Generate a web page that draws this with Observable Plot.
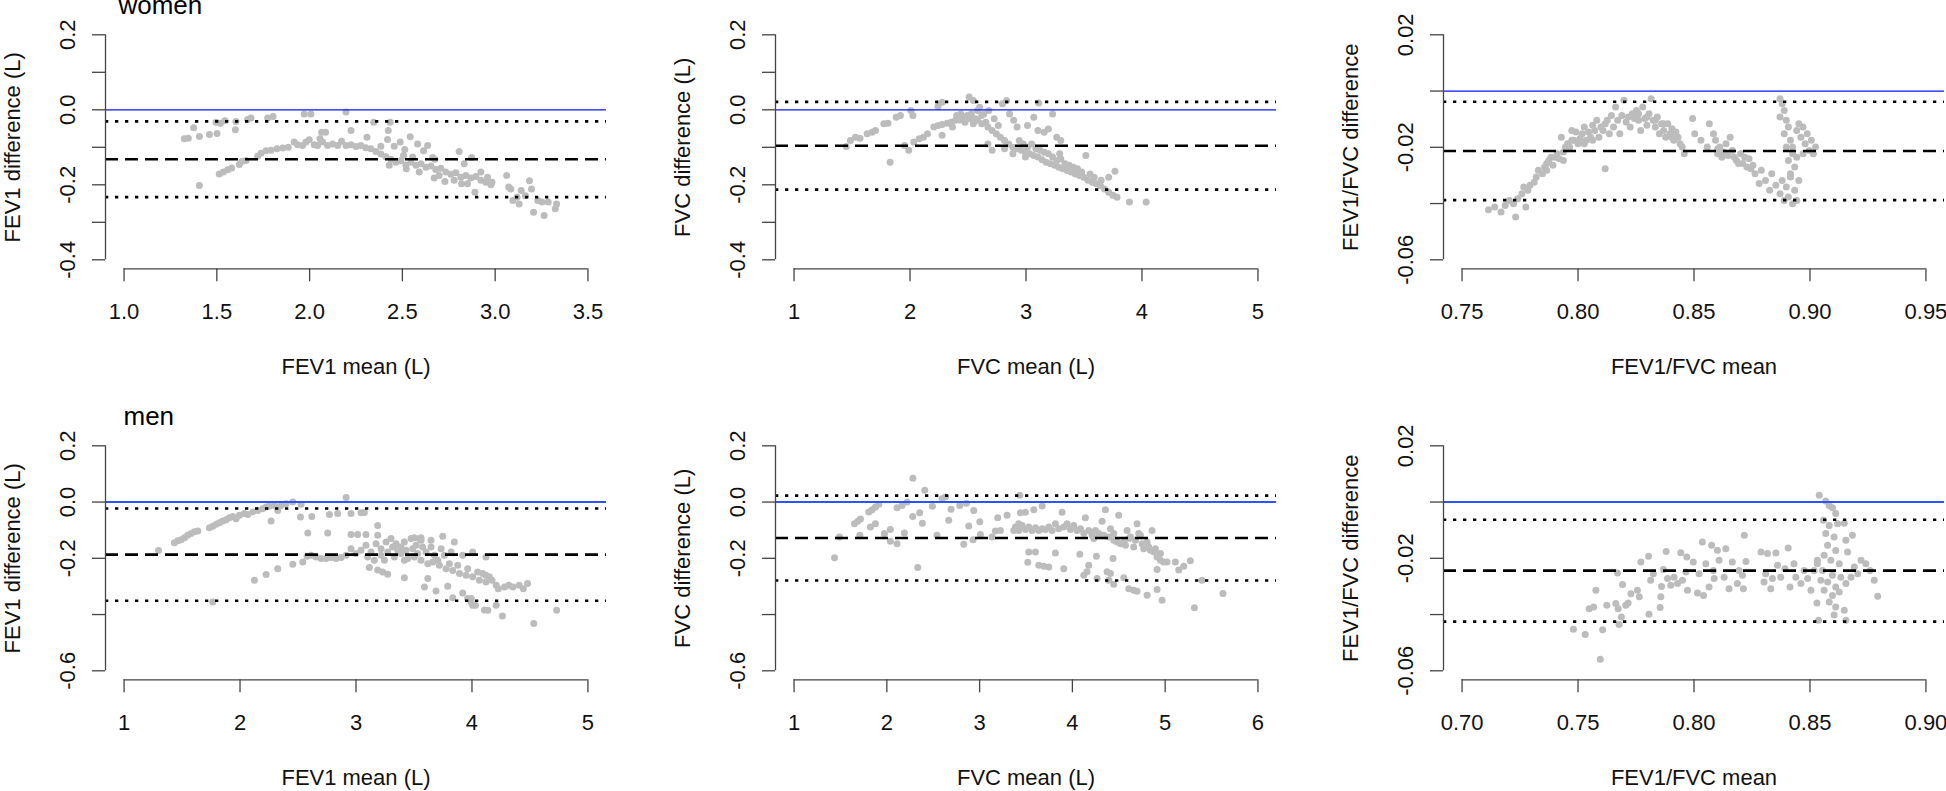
<!DOCTYPE html>
<html><head><meta charset="utf-8">
<script src="https://cdn.jsdelivr.net/npm/d3@7"></script>
<script src="https://cdn.jsdelivr.net/npm/@observablehq/plot@0.6"></script>
<style>
html,body{margin:0;padding:0;background:#fff;overflow:hidden;}
#wrap{position:relative;width:1946px;height:791px;overflow:hidden;}
#wrap svg{position:absolute;overflow:visible;}
</style></head><body><div id="wrap"></div>
<script>
// ---------- data (mean, difference) ----------
const womenFEV1 = [
[1.325,-0.077],[1.346,-0.076],[1.375,-0.048],[1.406,-0.071],[1.460,-0.066],[1.501,-0.063],[1.496,-0.033],[1.519,-0.036],[1.544,-0.029],[1.603,-0.031],[1.600,-0.053],[1.666,-0.026],[1.684,-0.022],[1.774,-0.022],[1.803,-0.018],[1.971,-0.011],[2.007,-0.011],[2.196,-0.006],[2.345,-0.033],[2.434,-0.033],[2.424,-0.055],[2.420,-0.079],[2.223,-0.055],[2.309,-0.073],[2.065,-0.060],[2.086,-0.060],[2.056,-0.077],
[1.406,-0.202],[1.513,-0.171],[1.535,-0.166],[1.558,-0.160],[1.580,-0.155],[1.621,-0.146],[1.634,-0.138],[1.657,-0.135],[1.720,-0.124],[1.738,-0.116],[1.765,-0.109],[1.792,-0.108],[1.824,-0.104],[1.855,-0.102],[1.885,-0.100],[1.917,-0.086],[1.935,-0.093],[1.962,-0.095],[1.980,-0.086],[1.998,-0.080],[2.025,-0.093],[2.043,-0.095],[2.070,-0.086],[2.097,-0.095],[2.124,-0.091],[2.151,-0.095],[2.172,-0.084],[2.196,-0.095],[2.223,-0.093],[2.250,-0.098],[2.276,-0.095],[2.303,-0.101],[2.330,-0.104],[2.357,-0.111],[2.384,-0.118],[2.411,-0.125],[2.438,-0.132],[2.465,-0.140],[2.492,-0.136],[2.519,-0.147],[2.546,-0.140],[2.573,-0.148],[2.600,-0.144],[2.627,-0.153],[2.654,-0.150],[2.680,-0.159],[2.707,-0.156],[2.734,-0.166],[2.761,-0.172],[2.788,-0.168],[2.815,-0.180],[2.842,-0.175],[2.869,-0.182],[2.896,-0.178],[2.923,-0.188],[2.950,-0.193],[2.977,-0.200],
[2.456,-0.097],[2.488,-0.086],[2.513,-0.106],[2.542,-0.072],[2.582,-0.091],[2.614,-0.109],[2.636,-0.095],[2.663,-0.127],[2.675,-0.132],[2.806,-0.111],[2.873,-0.127],[2.833,-0.144],[2.891,-0.220],[2.819,-0.197],[2.729,-0.191],[2.671,-0.182],[2.521,-0.157],[2.429,-0.148],[2.384,-0.097],[2.506,-0.122],[2.555,-0.126],[2.591,-0.166],[2.698,-0.175],[2.779,-0.188],[2.851,-0.197],[2.923,-0.166],[2.959,-0.180],
[3.062,-0.175],[3.084,-0.211],[3.095,-0.242],[3.129,-0.251],[3.140,-0.215],[3.185,-0.189],[3.196,-0.211],[3.207,-0.273],[3.230,-0.242],[3.253,-0.246],[3.264,-0.282],[3.286,-0.246],[3.331,-0.251],[3.324,-0.264],[3.163,-0.229],[3.118,-0.233],[3.073,-0.206],[2.983,-0.193]
];
const womenFVC = [
[1.450,-0.098],[1.486,-0.082],[1.529,-0.073],[1.569,-0.076],[1.630,-0.064],[1.673,-0.060],[1.702,-0.055],[1.774,-0.037],[1.810,-0.036],[1.881,-0.020],[1.917,-0.015],[2.007,-0.002],[2.025,-0.015],[1.828,-0.140],[1.953,-0.095],[1.989,-0.108],[2.032,-0.086],[2.079,-0.077],[2.115,-0.073],[2.151,-0.064],[2.205,-0.046],[2.241,-0.042],[2.277,-0.068],[2.277,-0.039],[2.320,-0.036],[2.241,0.009],[2.277,0.020],[2.356,-0.033],[2.392,-0.028],[2.428,-0.027],[2.464,-0.021],[2.493,-0.015],[2.510,0.034],[2.528,-0.011],[2.546,0.025],[2.564,-0.024],[2.582,-0.002],[2.600,0.007],[2.618,-0.015],[2.636,-0.011],[2.654,-0.033],[2.672,-0.046],[2.679,-0.002],[2.708,-0.055],[2.726,-0.024],[2.744,-0.064],[2.761,-0.042],[2.779,-0.073],[2.797,0.016],[2.815,-0.082],[2.833,0.025],[2.851,-0.091],[2.858,-0.011],[2.887,-0.100],[2.894,-0.028],[2.923,-0.104],[2.923,-0.046],[2.959,-0.108],[2.995,-0.113],[3.013,-0.042],[3.031,-0.117],[3.067,-0.122],[3.067,-0.020],[3.103,-0.126],[3.103,-0.055],[3.110,0.018],[3.139,-0.133],[3.157,-0.060],[3.175,-0.140],[3.193,-0.051],[3.211,-0.144],[3.229,-0.011],[3.247,-0.148],[3.265,-0.073],[3.282,-0.153],[3.290,-0.117],[3.300,-0.082],[3.318,-0.157],[3.354,-0.162],[3.390,-0.166],[3.426,-0.171],[3.462,-0.175],[3.498,-0.180],[3.516,-0.122],[3.534,-0.188],[3.570,-0.193],[3.605,-0.197],[3.641,-0.202],[3.648,-0.188],[3.677,-0.211],[3.713,-0.220],[3.713,-0.180],[3.749,-0.228],[3.767,-0.164],[3.785,-0.233],[3.892,-0.246],[4.036,-0.246],
[2.941,-0.082],[2.977,-0.091],[3.013,-0.100],[3.049,-0.091],[3.085,-0.104],[3.121,-0.108],[3.157,-0.113],[3.193,-0.117],[3.229,-0.126],[3.265,-0.135],[3.300,-0.131],[3.336,-0.144],[3.372,-0.148],[3.408,-0.153],[3.444,-0.157],[3.480,-0.166],[3.552,-0.171],[3.588,-0.180],[2.815,-0.104],[2.887,-0.117],[2.708,-0.108],[2.672,-0.091],[2.995,-0.126],
[2.438,-0.011],[2.474,-0.033],[2.510,-0.024],[2.546,-0.037],[2.582,-0.028],[2.618,-0.037],[2.402,-0.015],[2.366,-0.046]
];
const womenRatio = [
[0.7614,-0.0422],[0.7641,-0.0412],[0.7668,-0.0430],[0.7686,-0.0407],[0.7704,-0.0389],[0.7731,-0.0448],[0.7722,-0.0401],[0.7740,-0.0383],[0.7758,-0.0365],[0.7766,-0.0341],[0.7775,-0.0412],[0.7784,-0.0353],[0.7793,-0.0335],[0.7811,-0.0324],[0.7820,-0.0306],[0.7829,-0.0282],[0.7847,-0.0294],[0.7856,-0.0270],[0.7865,-0.0258],[0.7874,-0.0247],[0.7883,-0.0235],[0.7892,-0.0264],[0.7901,-0.0235],[0.7910,-0.0223],[0.7919,-0.0241],[0.7928,-0.0164],[0.7937,-0.0217],[0.7946,-0.0199],[0.7955,-0.0187],[0.7964,-0.0199],[0.7973,-0.0140],[0.7982,-0.0175],[0.7991,-0.0146],[0.8000,-0.0187],[0.8009,-0.0169],[0.8018,-0.0152],[0.8027,-0.0128],[0.8036,-0.0175],[0.8045,-0.0146],[0.8054,-0.0164],[0.8063,-0.0122],[0.8072,-0.0140],[0.8081,-0.0104],[0.8090,-0.0164],[0.8099,-0.0128],[0.8108,-0.0140],[0.8117,-0.0276],[0.8117,-0.0116],[0.8126,-0.0104],[0.8135,-0.0152],[0.8144,-0.0087],[0.8153,-0.0128],[0.8162,-0.0057],[0.8171,-0.0104],[0.8180,-0.0152],[0.8189,-0.0087],[0.8198,-0.0033],[0.8207,-0.0110],[0.8216,-0.0092],[0.8225,-0.0128],[0.8234,-0.0081],[0.8243,-0.0098],[0.8252,-0.0069],[0.8261,-0.0104],[0.8270,-0.0140],[0.8279,-0.0057],[0.8288,-0.0098],[0.8297,-0.0122],[0.8306,-0.0081],[0.8315,-0.0027],[0.8324,-0.0104],[0.8333,-0.0128],[0.8342,-0.0092],[0.8351,-0.0152],[0.8360,-0.0116],[0.8369,-0.0140],[0.8378,-0.0164],[0.8387,-0.0116],[0.8396,-0.0152],[0.8405,-0.0134],[0.8413,-0.0175],[0.8422,-0.0146],[0.8431,-0.0164],[0.8440,-0.0187],[0.8458,-0.0223],[0.8494,-0.0098],[0.8503,-0.0152],[0.8530,-0.0175],[0.8557,-0.0199],[0.8566,-0.0116],[0.8584,-0.0152],[0.8593,-0.0175],[0.8602,-0.0223],[0.8611,-0.0199],[0.8620,-0.0235],[0.8638,-0.0187],[0.8656,-0.0164],[0.8665,-0.0211],[0.8674,-0.0235],[0.8692,-0.0258],[0.8701,-0.0223],[0.8719,-0.0235],[0.8728,-0.0270],[0.8745,-0.0276],[0.8763,-0.0294],[0.8781,-0.0329],[0.8790,-0.0282],[0.8808,-0.0318],[0.8826,-0.0353],[0.8835,-0.0294],[0.8853,-0.0335],[0.8871,-0.0365],[0.8880,-0.0318],[0.8889,-0.0389],[0.8898,-0.0341],[0.8907,-0.0377],[0.8916,-0.0306],[0.8925,-0.0401],[0.8934,-0.0353],[0.8943,-0.0389],[0.8952,-0.0318],
[0.8871,-0.0027],[0.8880,-0.0045],[0.8889,-0.0069],[0.8871,-0.0092],[0.8898,-0.0104],[0.8907,-0.0128],[0.8889,-0.0152],[0.8916,-0.0175],[0.8898,-0.0199],[0.8925,-0.0223],[0.8907,-0.0247],[0.8934,-0.0270],[0.8916,-0.0294],[0.8943,-0.0140],[0.8952,-0.0116],[0.8961,-0.0164],[0.8970,-0.0128],[0.8979,-0.0187],[0.8988,-0.0152],[0.8997,-0.0211],[0.9006,-0.0175],[0.9015,-0.0223],[0.9024,-0.0199],[0.8970,-0.0223],[0.8943,-0.0235],[0.8925,-0.0199],
[0.8602,-0.0205],[0.8629,-0.0217],[0.8647,-0.0229],[0.8683,-0.0247],[0.8710,-0.0258],[0.8737,-0.0241],[0.8754,-0.0264],[0.8261,-0.0081],[0.8297,-0.0092],[0.8333,-0.0104],[0.8369,-0.0116],[0.8405,-0.0164],[0.8449,-0.0199],[0.7973,-0.0175],[0.8027,-0.0187],[0.8063,-0.0175],[0.7865,-0.0282],[0.7937,-0.0247]
];
const menFEV1 = [
[1.297,-0.172],[1.434,-0.145],[1.463,-0.138],[1.492,-0.134],[1.521,-0.127],[1.549,-0.118],[1.578,-0.112],[1.607,-0.106],[1.636,-0.103],[1.736,-0.091],[1.765,-0.086],[1.794,-0.079],[1.822,-0.074],[1.851,-0.067],[1.880,-0.063],[1.909,-0.056],[1.937,-0.051],[1.966,-0.059],[1.995,-0.047],[2.038,-0.041],[2.067,-0.044],[2.110,-0.035],[2.153,-0.030],[2.196,-0.024],[2.225,-0.018],[2.253,-0.015],[2.297,-0.012],[2.325,-0.030],[2.354,-0.012],[2.397,-0.006],[2.455,0.000],[2.526,-0.008],[2.268,-0.067],[1.765,-0.355],
[2.124,-0.278],[2.225,-0.258],[2.325,-0.237],[2.455,-0.221],[2.541,-0.213],[2.578,-0.193],[2.613,-0.189],[2.656,-0.195],[2.699,-0.201],[2.742,-0.201],[2.785,-0.197],[2.828,-0.201],[2.871,-0.197],[2.915,-0.189],
[2.521,-0.053],[2.619,-0.051],[2.584,-0.110],[2.756,-0.110],[2.771,-0.044],[2.842,-0.041],[2.957,-0.041],[3.043,-0.038],[3.072,-0.037],[2.915,0.016],[2.957,-0.115],[3.014,-0.115],[3.086,-0.115],[3.187,-0.083],[3.187,-0.118],[3.115,-0.233],[3.187,-0.242],[3.230,-0.249],[3.273,-0.257],[3.417,-0.269],[3.590,-0.302],[3.619,-0.272],[3.690,-0.316],[3.791,-0.299],[3.834,-0.340],[3.920,-0.323],[3.963,-0.343],[4.006,-0.367],[4.107,-0.384],[3.992,-0.355],
[2.957,-0.166],[3.000,-0.183],[3.043,-0.171],[3.086,-0.154],[3.129,-0.178],[3.173,-0.148],[3.216,-0.166],[3.259,-0.142],[3.302,-0.130],[3.345,-0.148],[3.388,-0.160],[3.432,-0.171],[3.475,-0.130],[3.518,-0.154],[3.561,-0.136],[3.604,-0.178],[3.647,-0.136],[3.676,-0.189],[3.705,-0.207],[3.748,-0.122],[3.762,-0.189],[3.805,-0.219],[3.848,-0.142],[3.877,-0.225],[3.920,-0.189],[3.963,-0.237],[4.006,-0.178],[4.049,-0.249],[4.092,-0.254],[4.121,-0.195],[4.150,-0.266],
[3.100,-0.195],[3.158,-0.207],[3.216,-0.189],[3.273,-0.178],[3.331,-0.195],[3.388,-0.183],[3.446,-0.201],[3.503,-0.195],[3.561,-0.207],[3.619,-0.219],[3.662,-0.213],[3.719,-0.225],[3.777,-0.237],[3.834,-0.243],[3.892,-0.254],[3.949,-0.260],[4.006,-0.266],[4.064,-0.278],[4.121,-0.284],
[3.360,-0.172],[3.417,-0.142],[3.489,-0.166],[3.532,-0.183],[3.575,-0.160],[3.316,-0.160],[3.245,-0.207],[3.417,-0.207],[3.546,-0.130],[3.503,-0.127],[3.561,-0.127],[3.647,-0.160],[3.734,-0.166],[3.820,-0.178],
[4.119,-0.260],[4.173,-0.278],[4.209,-0.296],[4.227,-0.308],[4.263,-0.405],[4.281,-0.302],[4.317,-0.296],[4.353,-0.302],[4.407,-0.296],[4.443,-0.308],[4.479,-0.290],[4.533,-0.432],[4.730,-0.385],[4.137,-0.385],[4.209,-0.367],[4.030,-0.367],[3.994,-0.343]
];
const menFVC = [
[1.436,-0.198],[1.490,-0.124],[1.651,-0.077],[1.687,-0.068],[1.716,-0.060],[1.709,-0.118],[1.805,-0.035],[1.841,-0.027],[1.877,-0.018],[1.913,-0.008],[1.823,-0.089],[1.877,-0.077],[1.974,-0.112],[2.038,-0.098],[2.038,-0.139],[2.110,-0.148],[2.110,-0.020],[2.164,-0.012],[2.218,0.000],[2.189,-0.110],[2.279,-0.051],[2.354,-0.038],[2.383,-0.075],[2.333,-0.233],[2.409,0.042],[2.281,0.085],[2.491,-0.015],[2.541,-0.118],[2.595,0.012],[2.631,0.018],[2.667,-0.065],[2.692,-0.026],[2.786,-0.012],[2.829,-0.150],[2.858,-0.004],[2.883,-0.085],[2.937,-0.030],[2.930,-0.134],[3.002,-0.070],[3.008,-0.115],[3.134,-0.124],[3.170,-0.103],[3.195,-0.056],[3.224,-0.101],[3.296,-0.047],[3.368,-0.101],[3.422,-0.077],[3.440,-0.038],[3.433,0.024],[3.494,-0.036],[3.584,-0.027],[3.674,-0.014],
[3.386,-0.089],[3.422,-0.101],[3.458,-0.083],[3.494,-0.098],[3.530,-0.089],[3.566,-0.101],[3.602,-0.091],[3.638,-0.101],[3.674,-0.095],[3.710,-0.098],[3.746,-0.089],[3.782,-0.101],[3.817,-0.077],[3.853,-0.095],[3.889,-0.036],[3.907,-0.089],[3.943,-0.077],[3.979,-0.098],[4.015,-0.083],[4.051,-0.101],[4.087,-0.095],[4.123,-0.111],[4.140,-0.056],[4.176,-0.101],[4.212,-0.118],[4.248,-0.101],[4.284,-0.112],[4.320,-0.068],[4.356,-0.027],[4.392,-0.124],[4.410,-0.095],[4.446,-0.136],[4.482,-0.142],[4.499,-0.047],[4.518,-0.148],[4.554,-0.142],[4.590,-0.101],[4.626,-0.124],[4.661,-0.160],[4.697,-0.077],[4.733,-0.118],[4.769,-0.166],[4.805,-0.142],[4.841,-0.171],[4.859,-0.101],[4.877,-0.177],[4.913,-0.195],[4.949,-0.207],[4.985,-0.213],[5.020,-0.213],[4.913,-0.240],[5.110,-0.213],[5.146,-0.242],[5.200,-0.228],[5.271,-0.209],[5.397,-0.278],[5.623,-0.325],[5.315,-0.376],[4.967,-0.349],[4.805,-0.331],[4.913,-0.311],
[3.530,-0.178],[3.602,-0.178],[3.519,-0.214],[3.638,-0.225],[3.692,-0.228],[3.746,-0.231],[3.817,-0.181],[3.907,-0.237],[4.080,-0.186],[4.176,-0.225],[4.123,-0.260],[4.158,-0.248],[4.259,-0.193],[4.266,-0.272],[4.374,-0.248],[4.410,-0.254],[4.438,-0.201],[4.446,-0.292],[4.554,-0.269],[4.608,-0.308],[4.661,-0.314],[4.697,-0.317],[4.392,-0.278],
[4.230,-0.130],[4.338,-0.118],[4.446,-0.112],[4.572,-0.154],[4.679,-0.136],[4.751,-0.148],[4.823,-0.160],[4.895,-0.166],[4.949,-0.183],[4.715,-0.112],[4.608,-0.130]
];
const menRatio = [
[0.7480,-0.0452],[0.7531,-0.0471],[0.7548,-0.0379],[0.7567,-0.0373],[0.7577,-0.0314],[0.7596,-0.0559],[0.7606,-0.0454],[0.7624,-0.0367],[0.7663,-0.0361],[0.7670,-0.0252],[0.7673,-0.0379],[0.7677,-0.0435],[0.7687,-0.0409],[0.7692,-0.0293],[0.7706,-0.0367],[0.7716,-0.0359],[0.7728,-0.0326],[0.7756,-0.0314],[0.7764,-0.0337],[0.7771,-0.0213],[0.7804,-0.0193],[0.7806,-0.0399],[0.7813,-0.0278],[0.7825,-0.0255],[0.7854,-0.0375],[0.7857,-0.0337],[0.7860,-0.0300],[0.7868,-0.0240],[0.7880,-0.0176],[0.7886,-0.0272],[0.7900,-0.0296],[0.7914,-0.0267],[0.7929,-0.0290],[0.7943,-0.0180],[0.7950,-0.0278],[0.7965,-0.0249],[0.7972,-0.0314],[0.7969,-0.0195],[0.7997,-0.0213],[0.8015,-0.0323],[0.8022,-0.0255],[0.8036,-0.0142],[0.8041,-0.0332],[0.8051,-0.0219],[0.8065,-0.0302],[0.8076,-0.0154],[0.8084,-0.0243],[0.8087,-0.0272],[0.8101,-0.0171],[0.8108,-0.0207],[0.8130,-0.0267],[0.8137,-0.0166],[0.8151,-0.0308],[0.8165,-0.0213],[0.8187,-0.0290],[0.8194,-0.0243],[0.8209,-0.0260],[0.8213,-0.0308],[0.8217,-0.0118],[0.8224,-0.0211],[0.8289,-0.0178],[0.8302,-0.0284],[0.8309,-0.0255],[0.8317,-0.0183],[0.8331,-0.0308],[0.8338,-0.0272],[0.8353,-0.0181],[0.8360,-0.0225],[0.8374,-0.0267],[0.8392,-0.0237],[0.8406,-0.0163],[0.8414,-0.0302],[0.8431,-0.0219],[0.8439,-0.0267],[0.8461,-0.0290],[0.8475,-0.0243],[0.8490,-0.0272],[0.8504,-0.0314],[0.8518,-0.0243],[0.8532,-0.0207],[0.8537,-0.0420],[0.8530,-0.0359],
[0.8540,0.0024],[0.8568,0.0004],[0.8583,-0.0012],[0.8597,-0.0020],[0.8611,-0.0041],[0.8558,-0.0065],[0.8583,-0.0083],[0.8619,-0.0077],[0.8648,-0.0075],[0.8568,-0.0112],[0.8604,-0.0124],[0.8655,-0.0136],[0.8683,-0.0118],[0.8576,-0.0154],[0.8611,-0.0172],[0.8662,-0.0178],[0.8561,-0.0189],[0.8590,-0.0207],[0.8626,-0.0219],[0.8554,-0.0243],[0.8597,-0.0260],[0.8633,-0.0267],[0.8576,-0.0284],[0.8611,-0.0302],[0.8655,-0.0290],[0.8561,-0.0314],[0.8597,-0.0332],[0.8626,-0.0320],[0.8583,-0.0355],[0.8611,-0.0373],[0.8648,-0.0385],[0.8604,-0.0402],[0.8655,-0.0420],[0.8532,-0.0219],[0.8547,-0.0278],
[0.8720,-0.0207],[0.8741,-0.0219],[0.8759,-0.0243],[0.8777,-0.0278],[0.8792,-0.0335],[0.8691,-0.0231],[0.8677,-0.0267],[0.8706,-0.0255]
];

// reference lines: mean difference and limits of agreement
const meanDiff  = [-0.132, -0.096, -0.0213, -0.187, -0.128, -0.0244];
const upperLoA  = [-0.031,  0.021, -0.0038, -0.023,  0.023, -0.0063];
const lowerLoA  = [-0.233, -0.213, -0.0388, -0.351, -0.279, -0.0425];

// axes
const xLimits = [[1,3.5],[1,5],[0.75,0.95],[1,5],[1,6],[0.70,0.90]];
const yLimits = [[-0.4,0.2],[-0.4,0.2],[-0.06,0.02],[-0.6,0.2],[-0.6,0.2],[-0.06,0.02]];
const xTickValues = [[1,1.5,2,2.5,3,3.5],[1,2,3,4,5],[0.75,0.8,0.85,0.9,0.95],[1,2,3,4,5],[1,2,3,4,5,6],[0.7,0.75,0.8,0.85,0.9]];
const xTickLabels = [["1.0","1.5","2.0","2.5","3.0","3.5"],["1","2","3","4","5"],["0.75","0.80","0.85","0.90","0.95"],["1","2","3","4","5"],["1","2","3","4","5","6"],["0.70","0.75","0.80","0.85","0.90"]];
const yTickValues = [[-0.4,-0.3,-0.2,-0.1,0,0.1,0.2],[-0.4,-0.3,-0.2,-0.1,0,0.1,0.2],[-0.06,-0.04,-0.02,0,0.02],[-0.6,-0.4,-0.2,0,0.2],[-0.6,-0.4,-0.2,0,0.2],[-0.06,-0.04,-0.02,0,0.02]];
const yLabelValues = [[-0.4,-0.2,0,0.2],[-0.4,-0.2,0,0.2],[-0.06,-0.02,0.02],[-0.6,-0.2,0,0.2],[-0.6,-0.2,0,0.2],[-0.06,-0.02,0.02]];
const yTickLabels = [["-0.4","-0.2","0.0","0.2"],["-0.4","-0.2","0.0","0.2"],["-0.06","-0.02","0.02"],["-0.6","-0.2","0.0","0.2"],["-0.6","-0.2","0.0","0.2"],["-0.06","-0.02","0.02"]];
const xTitles = ["FEV1 mean (L)","FVC mean (L)","FEV1/FVC mean","FEV1 mean (L)","FVC mean (L)","FEV1/FVC mean"];
const yTitles = ["FEV1 difference (L)","FVC difference (L)","FEV1/FVC difference","FEV1 difference (L)","FVC difference (L)","FEV1/FVC difference"];
const panelTitles = ["women", null, null, "men", null, null];
const seriesList = [womenFEV1, womenFVC, womenRatio, menFEV1, menFVC, menRatio];

// ---------- layout ----------
const FONT = "'Liberation Sans', Arial, Helvetica, sans-serif";
const colLeft = [105, 775, 1442.7];
const rowTop = [25.3, 436];
const ML = 105, MR = 4, MT = 25.3, PW = 501, PH = 243, MB = 112;
const W = ML + PW + MR, H = MT + PH + MB;
const titleDx = [13, 18];
const zeroStroke = [{c: "#0a14ff", w: 1.2}, {c: "#2f52ff", w: 2}];

const wrap = document.getElementById("wrap");
function ext(l){ const r = l[1]-l[0]; return [l[0]-0.04*r, l[1]+0.04*r]; }

seriesList.forEach((series, i) => {
  const row = Math.floor(i/3), col = i%3;
  const xd = ext(xLimits[i]), yd = ext(yLimits[i]);
  const pts = series.map(([m,d]) => ({m, d}));
  const xt = xTickValues[i], yt = yTickValues[i];
  const xLab = xt.map((v,k) => ({v, s: xTickLabels[i][k]}));
  const yLab = yLabelValues[i].map((v,k) => ({v, s: yTickLabels[i][k]}));
  const marks = [
    Plot.dot(pts, {x: "m", y: "d", r: 3.5, fill: "#bcbcbc", stroke: "none"}),
    Plot.ruleY([0], {stroke: zeroStroke[row].c, strokeWidth: zeroStroke[row].w}),
    Plot.ruleY([upperLoA[i], lowerLoA[i]], {stroke: "#000", strokeWidth: 2.6, strokeDasharray: "3.3,6.7"}),
    Plot.ruleY([meanDiff[i]], {stroke: "#000", strokeWidth: 2.6, strokeDasharray: "13,7"}),
    // R-style axes
    Plot.ruleX([xd[0]], {y1: () => yt[0], y2: () => yt[yt.length-1], stroke: "#444", strokeWidth: 1.3}),
    Plot.ruleY([yd[0]], {x1: () => xt[0], x2: () => xt[xt.length-1], stroke: "#444", strokeWidth: 1.3}),
    Plot.axisY({ticks: yt, tickSize: 13, tickFormat: () => "", label: null, stroke: "#444", strokeWidth: 1.3}),
    Plot.axisX({ticks: xt, tickSize: 13, tickFormat: () => "", label: null, stroke: "#444", strokeWidth: 1.3}),
    Plot.text(yLab, {y: "v", text: "s", frameAnchor: "left", textAnchor: "middle", lineAnchor: "middle", dx: -37.5, rotate: -90, fontSize: 22, fill: "#111"}),
    Plot.text(xLab, {x: "v", text: "s", frameAnchor: "bottom", lineAnchor: "middle", dy: 43.4, fontSize: 22, fill: "#111"}),
    Plot.text([xTitles[i]], {text: d => d, frameAnchor: "bottom", lineAnchor: "middle", dy: 98.4, fontSize: 22, fill: "#111"}),
    Plot.text([yTitles[i]], {text: d => d, frameAnchor: "left", textAnchor: "middle", lineAnchor: "middle", dx: -92.5, rotate: -90, fontSize: 22, fill: "#111"})
  ];
  if (panelTitles[i]) {
    marks.push(Plot.text([panelTitles[i]], {text: d => d, frameAnchor: "top-left", textAnchor: "start", lineAnchor: "bottom", dx: titleDx[row], dy: -11.3, fontSize: 26, fill: "#000"}));
  }
  const chart = Plot.plot({
    width: W, height: H,
    marginLeft: ML, marginRight: MR, marginTop: MT, marginBottom: MB,
    x: {domain: xd}, y: {domain: yd},
    style: {fontFamily: FONT, background: "transparent", overflow: "visible"},
    marks
  });
  chart.style.left = (colLeft[col] - ML) + "px";
  chart.style.top = (rowTop[row] - MT) + "px";
  wrap.appendChild(chart);
});
</script></body></html>
